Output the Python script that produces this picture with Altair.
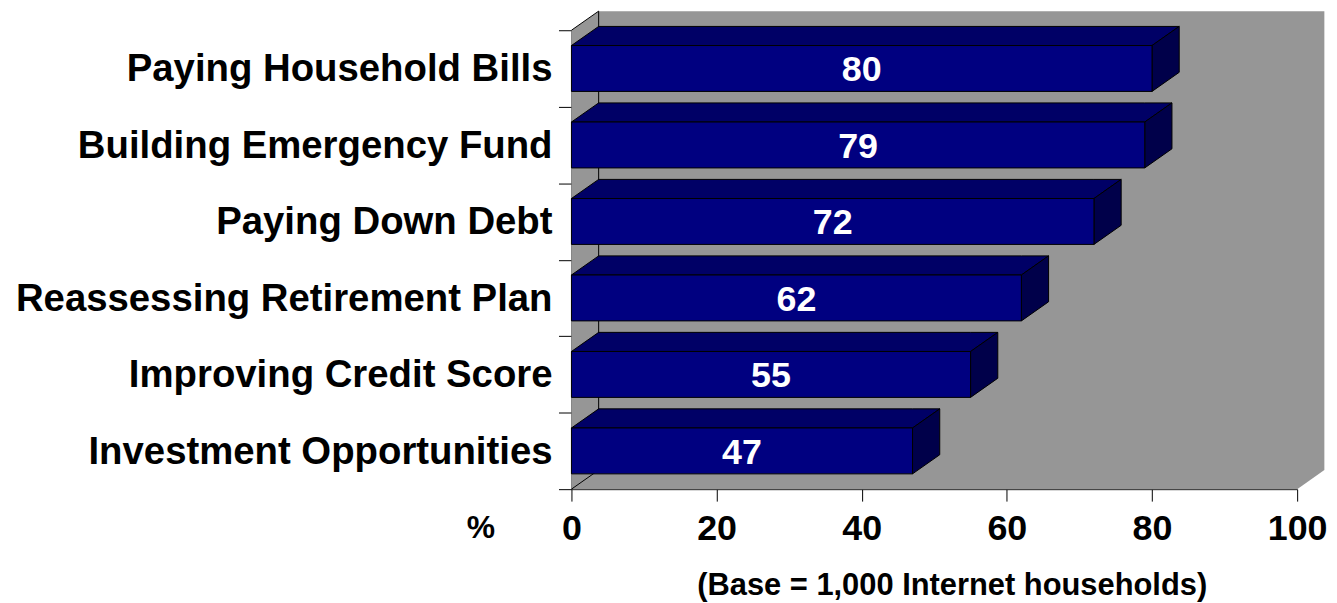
import altair as alt
import pandas as pd

categories = ["Paying Household Bills", "Building Emergency Fund", "Paying Down Debt",
              "Reassessing Retirement Plan", "Improving Credit Score", "Investment Opportunities"]
values = [80, 79, 72, 62, 55, 47]
x_ticks = [0, 20, 40, 60, 80, 100]
x_title = "(Base = 1,000 Internet households)"
unit_label = "%"

FONT = "Liberation Sans"
DX = 3.75   # depth offset in x units
DY = 0.25   # depth offset in y units
HALF = 0.3  # half bar thickness in y units
n = len(categories)
centers = [n - i - 0.5 for i in range(n)]

front = pd.DataFrame({
    "cat": categories, "v": values, "c": centers,
    "y0": [c - HALF for c in centers], "y1": [c + HALF for c in centers],
    "xm": [v / 2 for v in values], "x0": [0] * n,
})

top_rows, side_rows = [], []
for cat, v, c in zip(categories, values, centers):
    a, b = c + HALF, c + HALF + DY
    top_rows += [
        {"cat": cat, "x": 0, "lo": a, "hi": a},
        {"cat": cat, "x": DX, "lo": a, "hi": b},
        {"cat": cat, "x": v, "lo": a, "hi": b},
        {"cat": cat, "x": v + DX, "lo": b, "hi": b},
    ]
    side_rows += [
        {"cat": cat, "x": v, "lo": c - HALF, "hi": c + HALF},
        {"cat": cat, "x": v + DX, "lo": c - HALF + DY, "hi": c + HALF + DY},
    ]
top = pd.DataFrame(top_rows)
side = pd.DataFrame(side_rows)

wall = pd.DataFrame({
    "x": [0, DX, 100, 100 + DX],
    "lo": [0, 0, 0, DY],
    "hi": [n, n + DY, n + DY, n + DY],
})
edges = pd.DataFrame({
    "x": [DX, 0, 0], "x2": [DX, DX, DX],
    "y": [DY, 0, n], "y2": [n + DY, DY, n + DY],
})

xscale = alt.Scale(domain=[0, 100], nice=False, zero=False)
yscale = alt.Scale(domain=[0, n], nice=False, zero=False)

xaxis = alt.Axis(
    values=x_ticks, grid=False, title=x_title,
    labelFont=FONT, labelFontSize=36, labelFontWeight="bold", labelColor="black",
    labelFlush=False, labelPadding=11, tickSize=12, tickColor="black", domainColor="black",
    titleFont=FONT, titleFontSize=31, titleFontWeight="bold", titleColor="black",
    titleX=382, titleY=97, titleAlign="center", titleBaseline="middle")
yaxis = alt.Axis(
    values=list(range(n + 1)), labels=False, grid=False, title="",
    tickSize=13, tickColor="black", domainColor="black")


def X(field):
    return alt.X(field, scale=xscale, axis=xaxis)


def Y(field):
    return alt.Y(field, scale=yscale, axis=yaxis)


background = alt.Chart(wall).mark_area(color="#969696", opacity=1).encode(
    x=X("x:Q"), y=Y("lo:Q"), y2="hi:Q",
)

edge_lines = alt.Chart(edges).mark_rule(color="black", strokeWidth=1).encode(
    x=X("x:Q"), x2="x2:Q", y=Y("y:Q"), y2="y2:Q",
)

top_faces = alt.Chart(top).mark_area(color="#000066", stroke="black", strokeWidth=1, opacity=1).encode(
    x=X("x:Q"), y=Y("lo:Q"), y2="hi:Q", detail="cat:N",
)

side_faces = alt.Chart(side).mark_area(color="#00004A", stroke="black", strokeWidth=1, opacity=1).encode(
    x=X("x:Q"), y=Y("lo:Q"), y2="hi:Q", detail="cat:N",
)

front_faces = alt.Chart(front).mark_rect(color="#000080", stroke="black", strokeWidth=1).encode(
    x=X("x0:Q"), x2="v:Q", y=Y("y0:Q"), y2="y1:Q",
)

value_text = alt.Chart(front).mark_text(
    color="white", font=FONT, fontSize=36, fontWeight="bold", baseline="middle", dy=2
).encode(
    x=X("xm:Q"), y=Y("c:Q"), text="v:Q",
)

cat_text = alt.Chart(front).mark_text(
    color="black", font=FONT, fontSize=38.5, fontWeight="bold", align="right", baseline="middle", dy=1
).encode(
    x=alt.value(-19), y=Y("c:Q"), text="cat:N",
)

pct_text = alt.Chart(pd.DataFrame({"t": [unit_label]})).mark_text(
    color="black", font=FONT, fontSize=32, fontWeight="bold", align="center", baseline="middle"
).encode(
    x=alt.value(-91), y=alt.value(500), text="t:N",
)

chart = alt.layer(
    background, edge_lines, top_faces, side_faces, front_faces, value_text, cat_text, pct_text
).properties(
    width=729, height=461,
    autosize=alt.AutoSizeParams(type="none"),
    padding={"left": 566, "top": 21, "right": 32, "bottom": 112},
).configure_view(stroke=None)

chart.save("out.html", embed_options={"renderer": "svg", "actions": False})
